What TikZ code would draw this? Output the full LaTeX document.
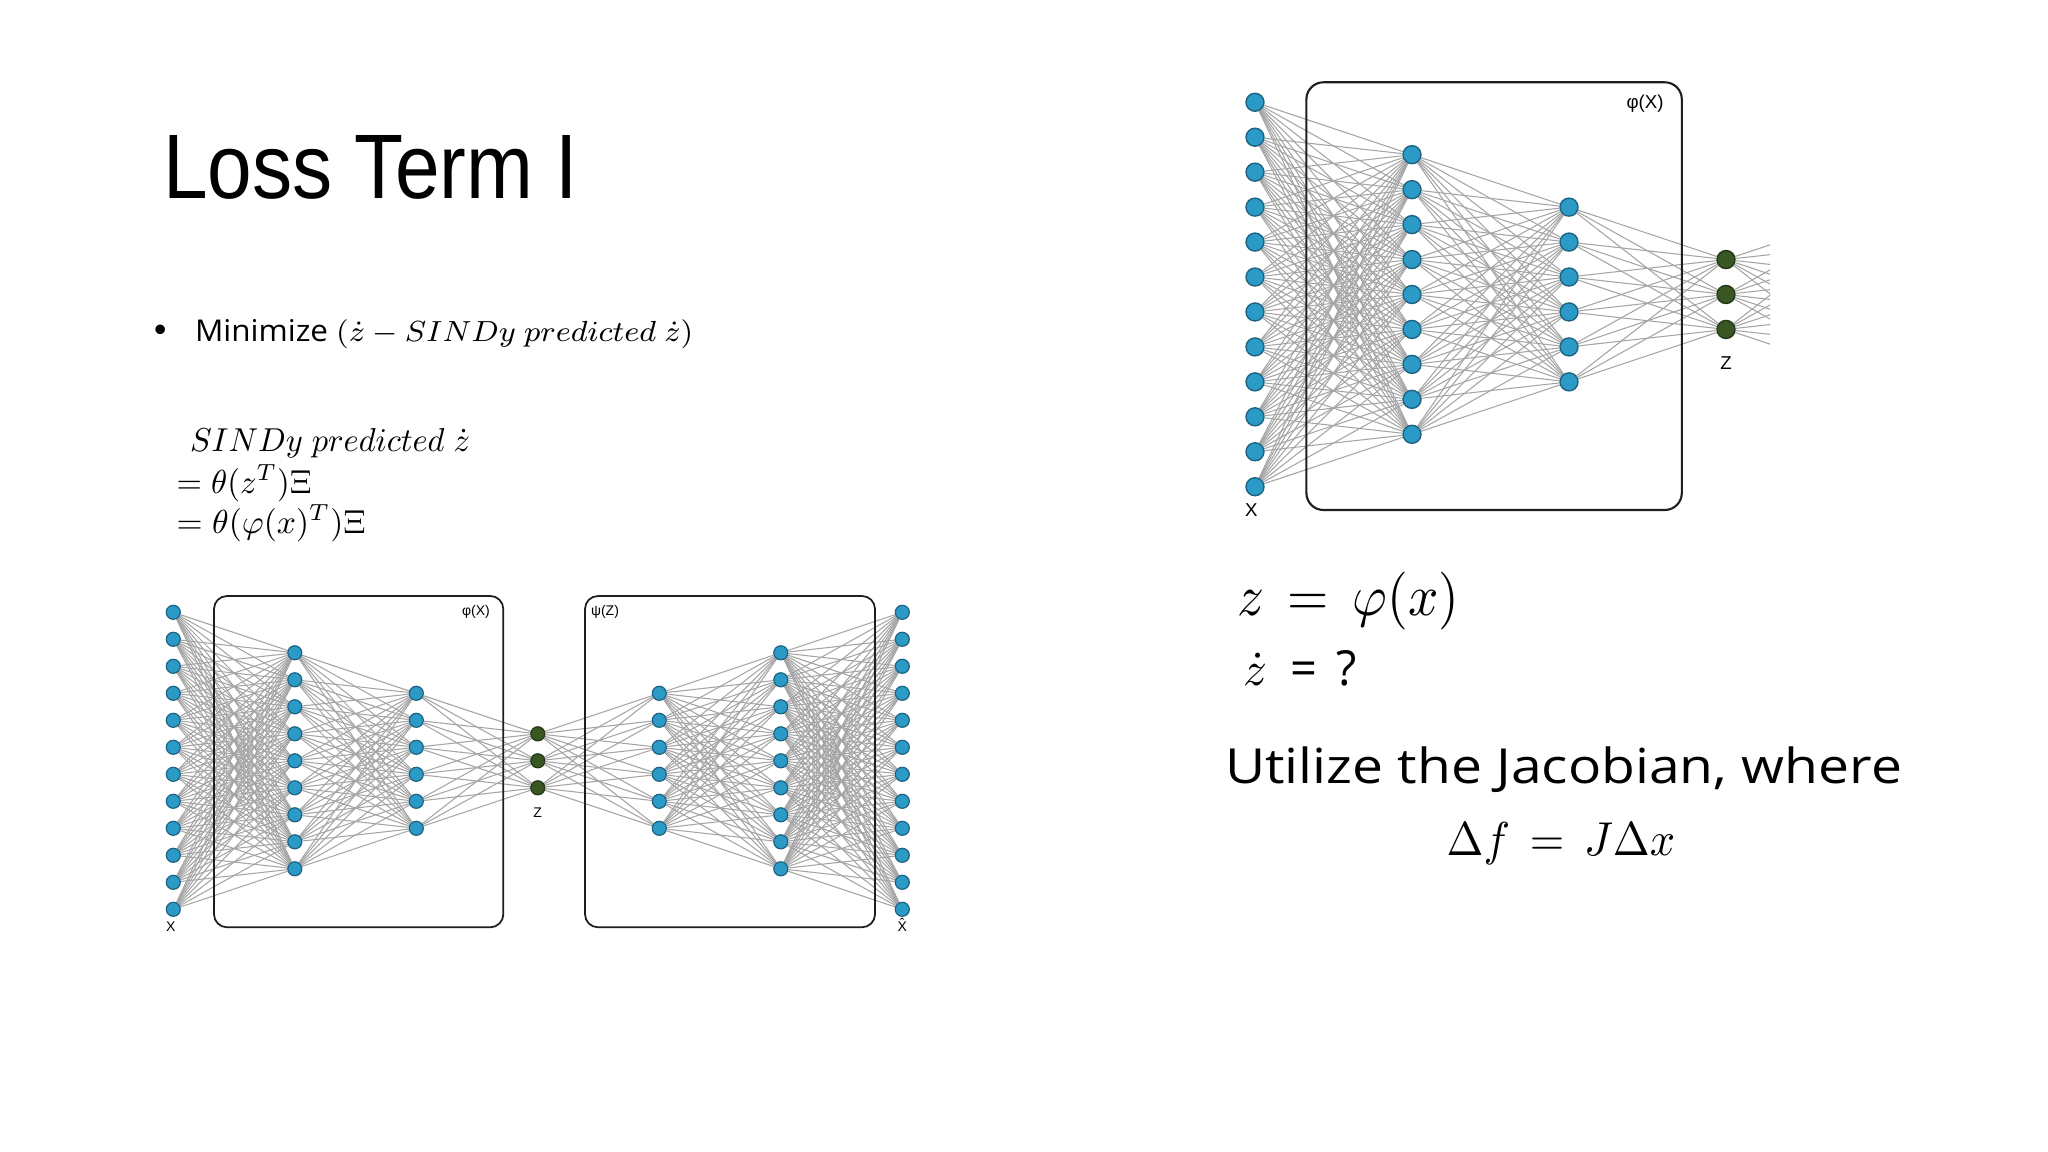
\documentclass[tikz,border=0pt]{standalone}
\usepackage{fontspec}
\usepackage{graphicx}
\setmainfont{Liberation Sans}
\newfontfamily\bodyfont{Open Sans}
\definecolor{nnblue}{RGB}{43,154,199}
\definecolor{nnblueline}{RGB}{30,100,130}
\definecolor{nngreen}{RGB}{56,87,35}
\definecolor{nngreenline}{RGB}{36,56,22}
\definecolor{edgegray}{RGB}{165,165,165}
\definecolor{boxline}{RGB}{30,30,30}
\pgfdeclarelayer{bglayer}
\pgfdeclarelayer{edgelayer}
\pgfdeclarelayer{boxlayer}
\pgfsetlayers{bglayer,edgelayer,boxlayer,main}
\newcommand{\connectlayers}[4]{\foreach \ii in {1,...,#2}{\foreach \jj in {1,...,#4}{\draw[edge] (#1\ii) -- (#3\jj);}}}
\newcommand{\smalllab}{\fontsize{3.98pt}{5pt}\selectfont}
\newcommand{\biglab}{\fontsize{5.3pt}{6.5pt}\selectfont}
\begin{document}
\begin{tikzpicture}[x=0.01cm,y=-0.01cm,
  txt/.style={anchor=base west,inner sep=0pt,outer sep=0pt},
  edge/.style={draw=edgegray,line width=0.3pt},
  bnode/.style={circle,fill=nnblue,draw=nnblueline,line width=0.35pt,inner sep=0pt,minimum size=0.14cm},
  bzn/.style={bnode,fill=nngreen,draw=nngreenline},
  tnode/.style={circle,fill=nnblue,draw=nnblueline,line width=0.4pt,inner sep=0pt,minimum size=0.18cm},
  tzn/.style={tnode,fill=nngreen,draw=nngreenline},
  bbox/.style={draw=boxline,line width=0.5pt,rounded corners=0.13cm},
  tbox/.style={draw=boxline,line width=0.6pt,rounded corners=0.17cm},
  blab/.style={anchor=base,inner sep=0pt,font=\smalllab},
  tlab/.style={anchor=base,inner sep=0pt,font=\biglab}]
\useasboundingbox (0,0) rectangle (2048,1152);
\begin{pgfonlayer}{bglayer}
  \fill[white] (0,0) rectangle (2048,1152);
\end{pgfonlayer}

% ---------------- texts ----------------
\node[txt] (title) at (163.3,199) {\resizebox{4.144cm}{0.63cm}{\fontsize{25pt}{30pt}\selectfont Loss Term I}};
\node[txt] (bullet) at (154,342) {\fontsize{10pt}{12pt}\selectfont •};
\node[txt] (minimize) at (195,341.7) {\resizebox{4.98cm}{0.22cm}{\fontsize{8.25pt}{10pt}\selectfont\bodyfont Minimize $(\dot z - SINDy\ predicted\ \dot z)$}};
\node[txt] (sindy) at (190,451.7) {\resizebox{2.80cm}{0.23cm}{$SINDy\ predicted\ \dot z$}};
\node[txt] (eqone) at (176.6,493) {\resizebox{1.35cm}{0.28cm}{$=\theta(z^T)\Xi$}};
\node[txt] (eqtwo) at (176.6,533) {\resizebox{1.89cm}{0.28cm}{$=\theta(\varphi(x)^T)\Xi$}};
\node[txt] (zeq) at (1237.3,615) {\resizebox{2.22cm}{0.433cm}{$z\,=\,\varphi(x)$}};
\node[txt] (zdot) at (1243.3,685) {\resizebox{1.134cm}{0.35cm}{\bodyfont$\dot z$\hspace{0.5em}=\hspace{0.4em}?}};
\node[txt] (utilize) at (1225,783.3) {\resizebox{6.765cm}{0.367cm}{\bodyfont Utilize the Jacobian, where}};
\node[txt] (jac) at (1446.7,855) {\resizebox{2.283cm}{0.33cm}{$\Delta f\,=\,J\Delta x$}};

% ---------------- bottom autoencoder ----------------
\foreach \lname/\lcount/\lk in {bA/12/0, bB/9/1, bC/6/2, bD/6/4, bE/9/5, bF/12/6}{
  \foreach \i in {1,...,\lcount}
    \node[bnode] (\lname\i) at ({173.3+\lk*121.5},{760.8+(\i-(\lcount+1)/2)*27}) {};
}
\foreach \i in {1,2,3}
  \node[bzn] (bZ\i) at (537.8,{760.8+(\i-2)*27}) {};
\begin{pgfonlayer}{edgelayer}
  \connectlayers{bA}{12}{bB}{9}
  \connectlayers{bB}{9}{bC}{6}
  \connectlayers{bC}{6}{bZ}{3}
  \connectlayers{bZ}{3}{bD}{6}
  \connectlayers{bD}{6}{bE}{9}
  \connectlayers{bE}{9}{bF}{12}
\end{pgfonlayer}
\begin{pgfonlayer}{boxlayer}
  \draw[bbox] (214,596) rectangle (503.3,927.3);
  \draw[bbox] (585,596) rectangle (875,927.3);
\end{pgfonlayer}
\node[blab] (bphilab) at (476,615.7) {φ(X)};
\node[blab] (bpsilab) at (605,615.7) {ψ(Z)};
\node[blab] (bxlab) at (170.7,931.7) {X};
\node[blab] (bzlab) at (537.7,817.7) {Z};
\node[blab] (bxhatlab) at (902.3,931.7) {\makebox[0pt][l]{\hspace{0.167em}\raisebox{0.22em}{ˆ}}X};

% ---------------- top encoder ----------------
\foreach \lname/\lcount/\lk in {tA/12/0, tB/9/1, tC/6/2}{
  \foreach \i in {1,...,\lcount}
    \node[tnode] (\lname\i) at ({1255+\lk*157},{294.5+(\i-(\lcount+1)/2)*34.95}) {};
}
\foreach \i in {1,2,3}
  \node[tzn] (tZ\i) at (1726,{294.5+(\i-2)*34.95}) {};
\foreach \i in {1,...,6}
  \coordinate (tD\i) at (1883,{294.5+(\i-3.5)*34.95});
\begin{pgfonlayer}{edgelayer}
  \connectlayers{tA}{12}{tB}{9}
  \connectlayers{tB}{9}{tC}{6}
  \connectlayers{tC}{6}{tZ}{3}
  \begin{scope}
    \clip (1700,150) rectangle (1770,450);
    \connectlayers{tZ}{3}{tD}{6}
  \end{scope}
\end{pgfonlayer}
\begin{pgfonlayer}{boxlayer}
  \draw[tbox] (1306.4,82.3) rectangle (1681.8,510);
\end{pgfonlayer}
\node[tlab] (tphilab) at (1645,108.4) {φ(X)};
\node[tlab] (txlab) at (1251.4,516.7) {X};
\node[tlab] (tzlab) at (1726,369.4) {Z};
\end{tikzpicture}
\end{document}
